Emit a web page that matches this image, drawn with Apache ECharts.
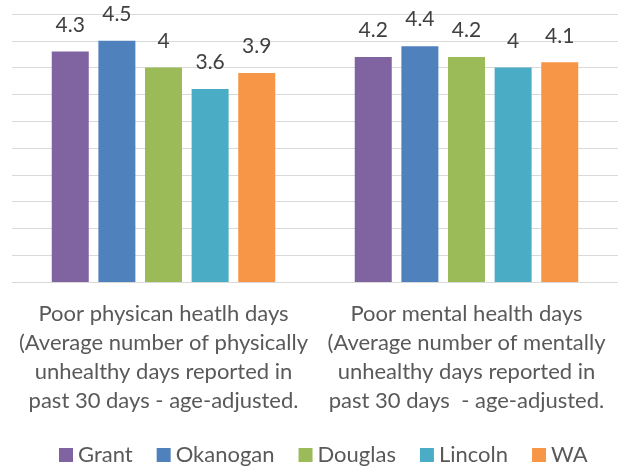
<!DOCTYPE html>
<html>
<head>
<meta charset="utf-8">
<script src="https://cdn.jsdelivr.net/npm/echarts@6/dist/echarts.min.js"></script>
<style>
  html, body { margin: 0; padding: 0; background: #fff; }
  #chart { width: 618px; height: 468px; }
</style>
</head>
<body>
<div id="chart"></div>
<script>
// categories (x axis)
var categories = [
    "Poor physican heatlh days\n(Average number of physically\nunhealthy days reported in\npast 30 days - age-adjusted.",
    "Poor mental health days\n(Average number of mentally\nunhealthy days reported in\npast 30 days  - age-adjusted."
];

// series names and values
var seriesNames = ["Grant", "Okanogan", "Douglas", "Lincoln", "WA"];
var grant = [4.3, 4.2];
var okanogan = [4.5, 4.4];
var douglas = [4.0, 4.2];
var lincoln = [3.6, 4.0];
var wa = [3.9, 4.1];

var colors = ["#8064A2", "#4F81BD", "#9BBB59", "#4BACC6", "#F79646"];
var allValues = [grant, okanogan, douglas, lincoln, wa];

var fontName = "Lato";

var myChart = echarts.init(document.getElementById("chart"));

var series = [];
seriesNames.forEach(function (name, indx) {
    series.push({
        name: name,
        type: "bar",
        data: allValues[indx],
        barWidth: 37,
        barGap: "26%",
        itemStyle: { color: colors[indx] },
        label: {
            show: true,
            position: "top",
            distance: 16,
            color: "#404040",
            fontSize: 21,
            fontFamily: fontName
        }
    });
});

var option = {
    animation: false,
    color: colors,
    grid: {
        left: 12,
        right: 0,
        top: 14,
        bottom: 186
    },
    legend: {
        data: seriesNames,
        left: 54,
        top: 439,
        icon: "rect",
        itemWidth: 14,
        itemHeight: 14,
        itemGap: 24,
        textStyle: {
            color: "#595959",
            fontSize: 22,
            fontFamily: fontName
        }
    },
    xAxis: {
        type: "category",
        data: categories,
        axisLine: { lineStyle: { color: "#d9d9d9", width: 1 } },
        axisTick: { show: false },
        axisLabel: {
            interval: 0,
            margin: 17,
            color: "#595959",
            fontSize: 22,
            lineHeight: 29,
            fontFamily: fontName
        }
    },
    yAxis: {
        type: "value",
        min: 0,
        max: 5,
        interval: 0.5,
        axisLabel: { show: false },
        axisLine: { show: false },
        axisTick: { show: false },
        splitLine: { lineStyle: { color: "#d9d9d9", width: 1 } }
    },
    series: series
};

myChart.setOption(option, true);
</script>
</body>
</html>
